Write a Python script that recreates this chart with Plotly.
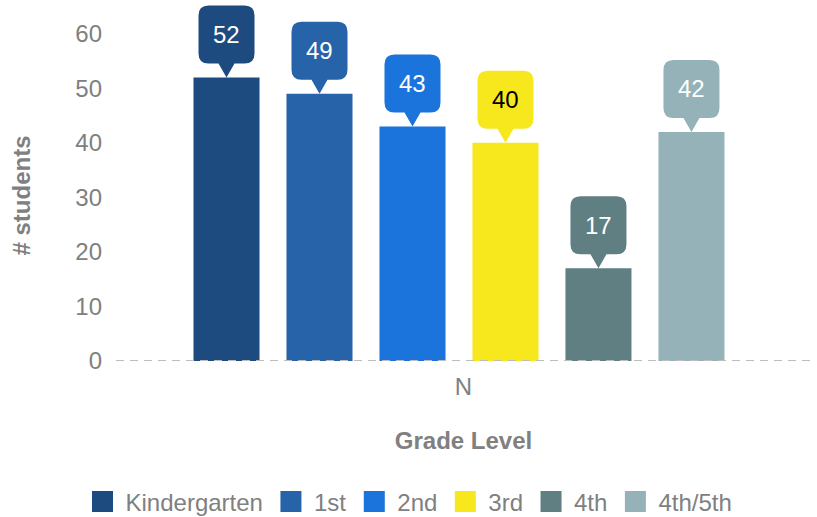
import plotly.graph_objects as go

categories = ["N"]
series_names = ["Kindergarten", "1st", "2nd", "3rd", "4th", "4th/5th"]
series_values = [52, 49, 43, 40, 17, 42]
series_colors = ["#1d4b80", "#2663a8", "#1b74db", "#f7e71d", "#607f82", "#94b2b7"]
label_colors = ["#ffffff", "#ffffff", "#ffffff", "#000000", "#ffffff", "#ffffff"]
y_ticks = [0, 10, 20, 30, 40, 50, 60]

FONT = "Liberation Sans, Arial, sans-serif"
GRAY = "#808080"
BAR_W = 0.095      # bar width as fraction of the category
BAR_PITCH = 0.1338  # distance between neighbouring bars
GROUP_START = -0.3885

fig = go.Figure()
for i, (name, val, col) in enumerate(zip(series_names, series_values, series_colors)):
    fig.add_trace(go.Bar(x=categories, y=[val], name=name, legendgroup=name, showlegend=False,
                         width=BAR_W, offset=GROUP_START + i * BAR_PITCH,
                         marker=dict(color=col, line=dict(width=0)), hoverinfo="y+name"))
# legend swatches (larger squares)
for name, col in zip(series_names, series_colors):
    fig.add_trace(go.Scatter(x=[None], y=[None], mode="markers", name=name, legendgroup=name,
                             marker=dict(symbol="square", size=16, color=col,
                                         line=dict(color=col, width=5)), showlegend=True))

callout = ("M 0,0 L -8,14 L -18,14 Q -28,14 -28,24 L -28,62 Q -28,72 -18,72 "
           "L 18,72 Q 28,72 28,62 L 28,24 Q 28,14 18,14 L 8,14 Z")
for i, (val, col, lc) in enumerate(zip(series_values, series_colors, label_colors)):
    xc = GROUP_START + i * BAR_PITCH + BAR_W / 2
    fig.add_shape(type="path", xref="x", yref="y", xsizemode="pixel", ysizemode="pixel",
                  xanchor=xc, yanchor=val, path=callout, fillcolor=col, line=dict(width=0), layer="above")
    fig.add_annotation(x=xc, y=val, xref="x", yref="y", text=str(val), showarrow=False,
                       yshift=43, font=dict(family=FONT, size=24, color=lc))

fig.add_shape(type="line", xref="paper", yref="y", x0=0, x1=1, y0=0, y1=0,
              line=dict(color="#bdbdbd", width=2, dash="8px,6px"), layer="above")

# y-axis title (placed as annotation to match vertical position)
fig.add_annotation(x=0, y=0.457, xref="paper", yref="paper", text="<b># students</b>",
                   textangle=-90, showarrow=False, xanchor="center", yanchor="middle",
                   xshift=-94.5, font=dict(family=FONT, size=24, color=GRAY))

fig.update_layout(
    width=817, height=517,
    margin=dict(l=116, r=6, t=0, b=156, autoexpand=False),
    paper_bgcolor="white", plot_bgcolor="white",
    barmode="overlay",
    font=dict(family=FONT, color=GRAY, size=24),
    showlegend=True,
    legend=dict(orientation="h", x=0.5, xanchor="center", xref="container",
                y=0.029, yanchor="middle", yref="container", itemwidth=36,
                font=dict(family=FONT, size=24, color=GRAY), traceorder="normal"),
    xaxis=dict(type="category", showgrid=False, zeroline=False, showline=False, ticks="",
               automargin=False,
               tickfont=dict(size=24, color=GRAY), ticklabelstandoff=9,
               title=dict(text="<b>Grade Level</b>", font=dict(size=24, color=GRAY), standoff=33)),
    yaxis=dict(range=[0, 66.2], tickvals=y_ticks, showgrid=False, zeroline=False, showline=False,
               automargin=False,
               ticks="", tickfont=dict(size=24, color=GRAY), ticklabelstandoff=13),
)

fig.write_html("out.html", config={"displayModeBar": False},
               post_script="document.body.style.margin='0';")
